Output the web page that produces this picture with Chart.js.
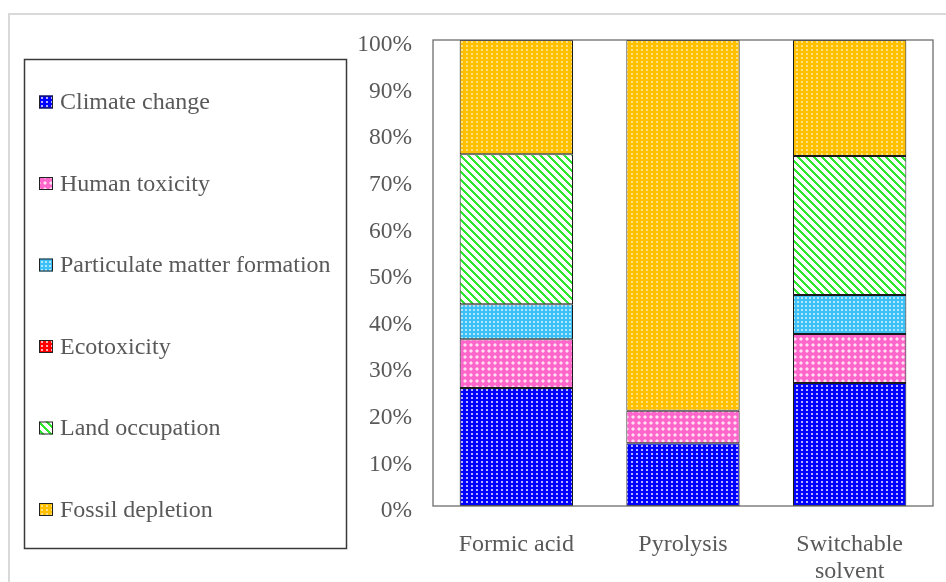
<!DOCTYPE html>
<html>
<head>
<meta charset="utf-8">
<script src="https://cdn.jsdelivr.net/npm/chart.js@4.4.1/dist/chart.umd.min.js"></script>
<style>
  html, body { margin: 0; padding: 0; background: #fff; overflow: hidden; }
  #wrap { position: relative; width: 946px; height: 582px; }
  #frame { position: absolute; left: 8px; top: 13px; width: 1000px; height: 700px;
           border: 2px solid #d9d9d9; box-sizing: border-box; }
  #c { position: absolute; left: 0; top: 0; }
</style>
</head>
<body>
<div id="wrap">
  <div id="frame"></div>
  <canvas id="c" width="946" height="582"></canvas>
</div>
<script>
// Share of each impact category per process (%)
const categories = ['Formic acid', 'Pyrolysis', ['Switchable', 'solvent']];
const climateChange     = [25.3, 13.45, 26.4];
const humanToxicity     = [10.5, 7.0, 10.5];
const particulateMatter = [7.5, 0, 8.4];
const ecotoxicity       = [0, 0, 0];
const landOccupation    = [32.2, 0, 29.8];
const fossilDepletion   = [24.5, 79.55, 24.9];
const yTickLabels = ['0%', '10%', '20%', '30%', '40%', '50%', '60%', '70%', '80%', '90%', '100%'];

const canvas = document.getElementById('c');
const ctx = canvas.getContext('2d');

// Small repeating fills for the hatched bar segments
function makePattern(w, h, paint) {
  const t = document.createElement('canvas');
  t.width = w; t.height = h;
  const g = t.getContext('2d');
  paint(g, w, h);
  return ctx.createPattern(t, 'repeat');
}
function dotted(base, dot, w, h) {
  return makePattern(w, h, (g) => {
    g.fillStyle = base; g.fillRect(0, 0, w, h);
    g.fillStyle = dot; g.fillRect(1, 1, 2, 2);
  });
}
const fills = {
  climate: dotted('#0000ff', 'rgba(255,255,255,0.7)', 5, 4),
  human: makePattern(6, 6, (g) => {
    g.fillStyle = '#ff66cc'; g.fillRect(0, 0, 6, 6);
    g.fillStyle = '#ffa6dc';
    g.fillRect(1, 2, 4, 2); g.fillRect(2, 1, 2, 4);
    g.fillStyle = '#ffe0f2'; g.fillRect(2, 2, 2, 2);
  }),
  particulate: makePattern(4, 4, (g) => {
    g.fillStyle = '#3cc0f5'; g.fillRect(0, 0, 4, 4);
    g.fillStyle = 'rgba(255,255,255,0.6)'; g.fillRect(1, 1, 2, 2);
  }),
  eco: dotted('#ff0000', 'rgba(255,255,255,0.7)', 5, 4),
  land: makePattern(8, 8, (g) => {
    g.fillStyle = '#ffffff'; g.fillRect(0, 0, 8, 8);
    g.fillStyle = '#2ee82e';
    for (let y = 0; y < 8; y++) {
      for (let k = 0; k < 3; k++) g.fillRect((y + k) % 8, y, 1, 1);
    }
  }),
  fossil: dotted('#ffc000', 'rgba(255,255,255,0.5)', 5, 4)
};

const FONT = "'Liberation Serif', 'Times New Roman', serif";
const TEXT = '#595959';

// Boxed legend drawn to the left of the plot
const boxedLegend = {
  id: 'boxedLegend',
  afterDraw(chart, args, opts) {
    const c = chart.ctx;
    const { left, top, right, bottom } = opts.box;
    c.save();
    c.strokeStyle = '#3a3a3a';
    c.lineWidth = 1.5;
    c.strokeRect(left + 0.5, top + 0.5, right - left, bottom - top);
    const items = chart.data.datasets;
    const step = (bottom - top) / items.length;
    c.font = opts.fontSize + 'px ' + FONT;
    c.textBaseline = 'middle';
    c.textAlign = 'left';
    items.forEach((ds, i) => {
      const cy = top + opts.firstOffset + i * step;
      const bx = left + 15, bw = 14, bh = 13;
      c.fillStyle = ds.backgroundColor;
      c.fillRect(bx, cy - bh / 2, bw, bh);
      c.strokeStyle = '#222';
      c.lineWidth = 1;
      c.strokeRect(bx + 0.5, cy - bh / 2 + 0.5, bw - 1, bh - 1);
      c.fillStyle = TEXT;
      c.fillText(ds.label, bx + bw + 7, cy + 1);
    });
    c.restore();
  }
};

// Outline of the plotting area
const plotFrame = {
  id: 'plotFrame',
  afterDatasetsDraw(chart) {
    const { left, top, right, bottom } = chart.chartArea;
    const c = chart.ctx;
    c.save();
    c.strokeStyle = '#6e6e6e';
    c.lineWidth = 1.3;
    c.strokeRect(left, top, right - left, bottom - top);
    c.restore();
  }
};

function series(label, data, fill) {
  return {
    label, data,
    backgroundColor: fill,
    borderColor: '#1a1a1a',
    borderWidth: 1,
    borderSkipped: false,
    barPercentage: 0.68,
    categoryPercentage: 1.0
  };
}

new Chart(ctx, {
  type: 'bar',
  data: {
    labels: categories,
    datasets: [
      series('Climate change', climateChange, fills.climate),
      series('Human toxicity', humanToxicity, fills.human),
      series('Particulate matter formation', particulateMatter, fills.particulate),
      series('Ecotoxicity', ecotoxicity, fills.eco),
      series('Land occupation', landOccupation, fills.land),
      series('Fossil depletion', fossilDepletion, fills.fossil)
    ]
  },
  options: {
    responsive: false,
    animation: false,
    layout: { padding: { left: 350, top: 40, right: 13, bottom: 0 } },
    plugins: {
      legend: { display: false },
      tooltip: { enabled: false },
      boxedLegend: { box: { left: 24, top: 59, right: 346, bottom: 548 }, firstOffset: 43, fontSize: 24 }
    },
    scales: {
      x: {
        stacked: true,
        grid: { display: false },
        border: { display: false },
        ticks: {
          color: TEXT, font: { family: FONT, size: 24, lineHeight: 1.13 },
          padding: 17, maxRotation: 0, autoSkip: false
        },
        afterFit(scale) { scale.height = 76; }
      },
      y: {
        stacked: true,
        min: 0, max: 100,
        grid: { display: false, drawTicks: false },
        border: { display: false },
        ticks: {
          stepSize: 10,
          color: TEXT, font: { family: FONT, size: 23.5 },
          padding: 21, labelOffset: 5,
          callback: (v) => yTickLabels[Math.round(v / 10)]
        },
        afterFit(scale) { scale.width = 83; }
      }
    }
  },
  plugins: [boxedLegend, plotFrame]
});
</script>
</body>
</html>
